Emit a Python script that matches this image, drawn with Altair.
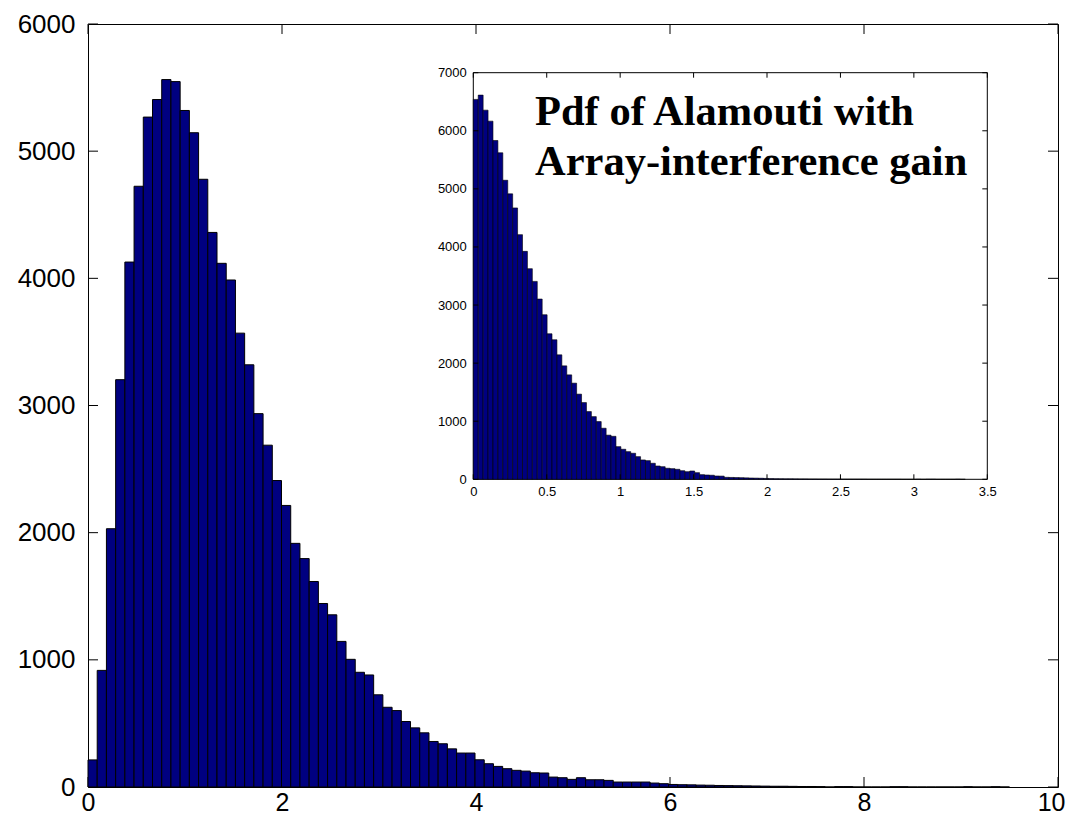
import altair as alt
import pandas as pd

# ---------------- data ----------------
main_bin_width = 0.095
main_counts = [
    213, 917, 2031, 3203, 4128, 4724, 5268, 5406, 5563, 5547,
    5320, 5145, 4779, 4361, 4118, 3987, 3569, 3320, 2936, 2688,
    2410, 2214, 1916, 1796, 1616, 1443, 1354, 1145, 1004, 902,
    881, 725, 627, 601, 515, 465, 426, 358, 340, 300,
    267, 267, 214, 183, 162, 144, 131, 125, 112, 110,
    78, 73, 60, 73, 57, 57, 52, 39, 39, 39,
    39, 31, 26, 20, 18, 17, 15, 14, 12, 11,
    10, 9, 8, 7, 6, 6, 5, 4, 4, 3,
    0, 3, 3, 0, 0, 0, 0, 2, 2, 0,
    0, 0, 0, 0, 0, 2, 0, 0, 2, 0,
]

inset_bin_width = 0.0335
inset_counts = [
    6540, 6614, 6355, 6166, 5833, 5621, 5148, 4914, 4672, 4212,
    3924, 3626, 3407, 3103, 2833, 2505, 2402, 2143, 1953, 1798,
    1655, 1466, 1321, 1166, 1079, 993, 879, 760, 740, 562,
    517, 476, 448, 390, 333, 321, 276, 229, 217, 190,
    183, 172, 148, 131, 143, 114, 80, 74, 70, 57,
    55, 34, 32, 30, 28, 25, 22, 20, 18, 15,
    12, 10, 9, 8, 8, 7, 6, 6, 5, 5,
    4, 4, 3, 3, 3, 2, 2, 2, 2, 2,
    1, 1, 1, 1, 1, 1, 1, 0, 0, 0,
    2, 0, 2, 2, 0, 0, 0, 0, 2, 0,
]

main_x_domain = [0, 10]
main_y_domain = [0, 6000]
inset_x_domain = [0, 3.5]
inset_y_domain = [0, 7000]

main_x_ticks = [0, 2, 4, 6, 8, 10]
main_y_ticks = [0, 1000, 2000, 3000, 4000, 5000, 6000]
inset_x_ticks = [0, 0.5, 1, 1.5, 2, 2.5, 3, 3.5]
inset_y_ticks = [0, 1000, 2000, 3000, 4000, 5000, 6000, 7000]

title_lines = ["Pdf of Alamouti with", "Array-interference gain"]

# ---------------- layout ----------------
PAD_L, PAD_T, PAD_R, PAD_B = 80, 16, 8, 28
W, H = 970, 763
# inset frame in plot pixels (page 473..987 x 73..479)
IN_L, IN_R = 473.3 - 8 - PAD_L, 987.3 - 8 - PAD_L
IN_T, IN_B = 72.7 - 8 - PAD_T, 479.3 - 8 - PAD_T
MAIN_TICK, INSET_TICK = 10, 5
BAR_FILL = "#000080"
FONT = "Liberation Sans"

main_df = pd.DataFrame({
    "start": [i * main_bin_width for i in range(len(main_counts))],
    "end": [(i + 1) * main_bin_width for i in range(len(main_counts))],
    "count": main_counts,
})
inset_df = pd.DataFrame({
    "start": [i * inset_bin_width for i in range(len(inset_counts))],
    "end": [(i + 1) * inset_bin_width for i in range(len(inset_counts))],
    "count": inset_counts,
})

mx = alt.Scale(domain=main_x_domain, range=[0, W], nice=False, zero=False)
my = alt.Scale(domain=main_y_domain, range=[H, 0], nice=False)
ix = alt.Scale(domain=inset_x_domain, range=[IN_L, IN_R], nice=False, zero=False)
iy = alt.Scale(domain=inset_y_domain, range=[IN_B, IN_T], nice=False)


def lab_axis(values, size, pad, orient, offset=0, fmt=None, flush=False, flush_off=0):
    kw = dict(values=values, ticks=False, tickSize=0, domain=False, grid=False,
              labelPadding=pad, labelFontSize=size, labelFont=FONT,
              labelColor="black", orient=orient, labelFlush=flush,
              labelFlushOffset=flush_off,
              labelOverlap=False, title=None, offset=offset)
    if fmt:
        kw["format"] = fmt
    return alt.Axis(**kw)


# inset frame (white background + black border)
frame_df = pd.DataFrame({"x0": [inset_x_domain[0]], "x1": [inset_x_domain[1]],
                         "y0": [inset_y_domain[0]], "y1": [inset_y_domain[1]]})
inset_frame = alt.Chart(frame_df).mark_rect(fill="white", stroke="black", strokeWidth=1).encode(
    x=alt.X("x0:Q", scale=ix, axis=None), x2="x1:Q",
    y=alt.Y("y0:Q", scale=iy, axis=None), y2="y1:Q",
)

inset_bars = alt.Chart(inset_df).mark_rect(fill=BAR_FILL, stroke="black", strokeWidth=0.6).encode(
    x=alt.X("start:Q", scale=ix,
            axis=lab_axis(inset_x_ticks, 13, 6, "bottom", offset=-(H - IN_B), fmt="~g")),
    x2="end:Q",
    y=alt.Y("count:Q", scale=iy,
            axis=lab_axis(inset_y_ticks, 13, 7, "left", offset=-IN_L, fmt="d")),
    y2=alt.datum(0),
)

main_bars = alt.Chart(main_df).mark_rect(fill=BAR_FILL, stroke="black", strokeWidth=1).encode(
    x=alt.X("start:Q", scale=mx,
            axis=lab_axis(main_x_ticks, 25, 3, "bottom", fmt="d", flush=True, flush_off=7)),
    x2="end:Q",
    y=alt.Y("count:Q", scale=my, axis=lab_axis(main_y_ticks, 26, 13, "left", fmt="d")),
    y2=alt.datum(0),
)

mxt = pd.DataFrame({"v": main_x_ticks})
myt = pd.DataFrame({"v": main_y_ticks})
ixt = pd.DataFrame({"v": inset_x_ticks})
iyt = pd.DataFrame({"v": inset_y_ticks})


def xticks(df, scale, y0, y1):
    return alt.Chart(df).mark_rule(color="black", strokeWidth=1).encode(
        x=alt.X("v:Q", scale=scale, axis=None), y=alt.value(y0), y2=alt.value(y1))


def yticks(df, scale, x0, x1):
    return alt.Chart(df).mark_rule(color="black", strokeWidth=1).encode(
        y=alt.Y("v:Q", scale=scale, axis=None), x=alt.value(x0), x2=alt.value(x1))


tick_layers = [
    xticks(mxt, mx, H, H - MAIN_TICK),
    xticks(mxt, mx, 0, MAIN_TICK),
    yticks(myt, my, 0, MAIN_TICK),
    yticks(myt, my, W, W - MAIN_TICK),
    xticks(ixt, ix, IN_B, IN_B - INSET_TICK),
    xticks(ixt, ix, IN_T, IN_T + INSET_TICK),
    yticks(iyt, iy, IN_L, IN_L + INSET_TICK),
    yticks(iyt, iy, IN_R, IN_R - INSET_TICK),
]

title_df = pd.DataFrame({"t": ["\n".join(title_lines)]})
title = alt.Chart(title_df).mark_text(
    font="Liberation Serif", fontWeight="bold", fontSize=42.5, align="left",
    baseline="alphabetic", lineBreak="\n", lineHeight=50, color="black",
).encode(text="t:N", x=alt.value(535 - 8 - PAD_L), y=alt.value(125 - 8 - PAD_T))

chart = alt.layer(
    *tick_layers[:4], inset_frame, inset_bars, main_bars, *tick_layers[4:], title
).resolve_scale(
    x="independent", y="independent"
).resolve_axis(
    x="independent", y="independent"
).properties(
    width=W, height=H,
    autosize=alt.AutoSizeParams(type="none"),
    padding={"left": PAD_L, "top": PAD_T, "right": PAD_R, "bottom": PAD_B},
    background="white",
).configure_view(stroke="black", strokeWidth=1)

chart.save("out.html", embed_options={"renderer": "svg", "actions": False})
